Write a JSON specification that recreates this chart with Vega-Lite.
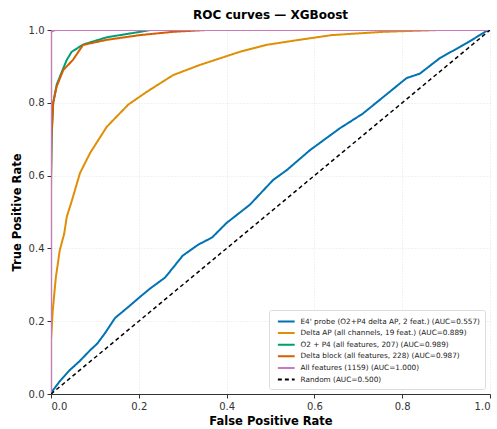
{
  "$schema": "https://vega.github.io/schema/vega-lite/v6.json",
  "autosize": {"type": "none"},
  "width": 439,
  "height": 364,
  "padding": {"left": 51, "top": 30, "right": 7, "bottom": 35},
  "title": {"text": "ROC curves — XGBoost", "font": "DejaVu Sans", "fontSize": 12, "fontWeight": "bold", "color": "#000000", "offset": 3, "anchor": "middle"},
  "config": {
    "view": {"stroke": null},
    "font": "DejaVu Sans",
    "axis": {
      "labelFont": "DejaVu Sans", "labelFontSize": 10, "labelColor": "#333333",
      "titleFont": "DejaVu Sans", "titleFontSize": 11.5, "titleFontWeight": "bold", "titleColor": "#000000",
      "domainColor": "#333333", "domainWidth": 1.2, "tickColor": "#333333", "tickSize": 4,
      "gridColor": "#dddddd", "gridDash": [1, 2], "gridWidth": 0.8
    }
  },
  "data": {"values": [
    {"s": "E4' probe (O2+P4 delta AP, 2 feat.) (AUC=0.557)", "fpr": 0, "tpr": 0},
    {"s": "E4' probe (O2+P4 delta AP, 2 feat.) (AUC=0.557)", "fpr": 0.005, "tpr": 0.011},
    {"s": "E4' probe (O2+P4 delta AP, 2 feat.) (AUC=0.557)", "fpr": 0.02, "tpr": 0.035},
    {"s": "E4' probe (O2+P4 delta AP, 2 feat.) (AUC=0.557)", "fpr": 0.043, "tpr": 0.066},
    {"s": "E4' probe (O2+P4 delta AP, 2 feat.) (AUC=0.557)", "fpr": 0.065, "tpr": 0.09},
    {"s": "E4' probe (O2+P4 delta AP, 2 feat.) (AUC=0.557)", "fpr": 0.089, "tpr": 0.12},
    {"s": "E4' probe (O2+P4 delta AP, 2 feat.) (AUC=0.557)", "fpr": 0.105, "tpr": 0.138},
    {"s": "E4' probe (O2+P4 delta AP, 2 feat.) (AUC=0.557)", "fpr": 0.123, "tpr": 0.167},
    {"s": "E4' probe (O2+P4 delta AP, 2 feat.) (AUC=0.557)", "fpr": 0.146, "tpr": 0.209},
    {"s": "E4' probe (O2+P4 delta AP, 2 feat.) (AUC=0.557)", "fpr": 0.175, "tpr": 0.238},
    {"s": "E4' probe (O2+P4 delta AP, 2 feat.) (AUC=0.557)", "fpr": 0.203, "tpr": 0.267},
    {"s": "E4' probe (O2+P4 delta AP, 2 feat.) (AUC=0.557)", "fpr": 0.226, "tpr": 0.29},
    {"s": "E4' probe (O2+P4 delta AP, 2 feat.) (AUC=0.557)", "fpr": 0.26, "tpr": 0.32},
    {"s": "E4' probe (O2+P4 delta AP, 2 feat.) (AUC=0.557)", "fpr": 0.3, "tpr": 0.38},
    {"s": "E4' probe (O2+P4 delta AP, 2 feat.) (AUC=0.557)", "fpr": 0.335, "tpr": 0.41},
    {"s": "E4' probe (O2+P4 delta AP, 2 feat.) (AUC=0.557)", "fpr": 0.367, "tpr": 0.43},
    {"s": "E4' probe (O2+P4 delta AP, 2 feat.) (AUC=0.557)", "fpr": 0.4, "tpr": 0.47},
    {"s": "E4' probe (O2+P4 delta AP, 2 feat.) (AUC=0.557)", "fpr": 0.453, "tpr": 0.52},
    {"s": "E4' probe (O2+P4 delta AP, 2 feat.) (AUC=0.557)", "fpr": 0.506, "tpr": 0.588},
    {"s": "E4' probe (O2+P4 delta AP, 2 feat.) (AUC=0.557)", "fpr": 0.537, "tpr": 0.615},
    {"s": "E4' probe (O2+P4 delta AP, 2 feat.) (AUC=0.557)", "fpr": 0.59, "tpr": 0.67},
    {"s": "E4' probe (O2+P4 delta AP, 2 feat.) (AUC=0.557)", "fpr": 0.658, "tpr": 0.73},
    {"s": "E4' probe (O2+P4 delta AP, 2 feat.) (AUC=0.557)", "fpr": 0.71, "tpr": 0.77},
    {"s": "E4' probe (O2+P4 delta AP, 2 feat.) (AUC=0.557)", "fpr": 0.757, "tpr": 0.816},
    {"s": "E4' probe (O2+P4 delta AP, 2 feat.) (AUC=0.557)", "fpr": 0.81, "tpr": 0.868},
    {"s": "E4' probe (O2+P4 delta AP, 2 feat.) (AUC=0.557)", "fpr": 0.84, "tpr": 0.88},
    {"s": "E4' probe (O2+P4 delta AP, 2 feat.) (AUC=0.557)", "fpr": 0.886, "tpr": 0.923},
    {"s": "E4' probe (O2+P4 delta AP, 2 feat.) (AUC=0.557)", "fpr": 0.947, "tpr": 0.964},
    {"s": "E4' probe (O2+P4 delta AP, 2 feat.) (AUC=0.557)", "fpr": 0.993, "tpr": 0.998},
    {"s": "E4' probe (O2+P4 delta AP, 2 feat.) (AUC=0.557)", "fpr": 1, "tpr": 1},

    {"s": "Delta AP (all channels, 19 feat.) (AUC=0.889)", "fpr": 0, "tpr": 0},
    {"s": "Delta AP (all channels, 19 feat.) (AUC=0.889)", "fpr": 0, "tpr": 0.148},
    {"s": "Delta AP (all channels, 19 feat.) (AUC=0.889)", "fpr": 0.004, "tpr": 0.23},
    {"s": "Delta AP (all channels, 19 feat.) (AUC=0.889)", "fpr": 0.011, "tpr": 0.32},
    {"s": "Delta AP (all channels, 19 feat.) (AUC=0.889)", "fpr": 0.02, "tpr": 0.395},
    {"s": "Delta AP (all channels, 19 feat.) (AUC=0.889)", "fpr": 0.03, "tpr": 0.44},
    {"s": "Delta AP (all channels, 19 feat.) (AUC=0.889)", "fpr": 0.036, "tpr": 0.487},
    {"s": "Delta AP (all channels, 19 feat.) (AUC=0.889)", "fpr": 0.048, "tpr": 0.533},
    {"s": "Delta AP (all channels, 19 feat.) (AUC=0.889)", "fpr": 0.066, "tpr": 0.607},
    {"s": "Delta AP (all channels, 19 feat.) (AUC=0.889)", "fpr": 0.089, "tpr": 0.662},
    {"s": "Delta AP (all channels, 19 feat.) (AUC=0.889)", "fpr": 0.127, "tpr": 0.734},
    {"s": "Delta AP (all channels, 19 feat.) (AUC=0.889)", "fpr": 0.176, "tpr": 0.795},
    {"s": "Delta AP (all channels, 19 feat.) (AUC=0.889)", "fpr": 0.218, "tpr": 0.83},
    {"s": "Delta AP (all channels, 19 feat.) (AUC=0.889)", "fpr": 0.278, "tpr": 0.876},
    {"s": "Delta AP (all channels, 19 feat.) (AUC=0.889)", "fpr": 0.339, "tpr": 0.904},
    {"s": "Delta AP (all channels, 19 feat.) (AUC=0.889)", "fpr": 0.43, "tpr": 0.94},
    {"s": "Delta AP (all channels, 19 feat.) (AUC=0.889)", "fpr": 0.49, "tpr": 0.959},
    {"s": "Delta AP (all channels, 19 feat.) (AUC=0.889)", "fpr": 0.56, "tpr": 0.972},
    {"s": "Delta AP (all channels, 19 feat.) (AUC=0.889)", "fpr": 0.64, "tpr": 0.986},
    {"s": "Delta AP (all channels, 19 feat.) (AUC=0.889)", "fpr": 0.757, "tpr": 0.995},
    {"s": "Delta AP (all channels, 19 feat.) (AUC=0.889)", "fpr": 0.886, "tpr": 1},
    {"s": "Delta AP (all channels, 19 feat.) (AUC=0.889)", "fpr": 1, "tpr": 1},

    {"s": "O2 + P4 (all features, 207) (AUC=0.989)", "fpr": 0, "tpr": 0},
    {"s": "O2 + P4 (all features, 207) (AUC=0.989)", "fpr": 0, "tpr": 0.6},
    {"s": "O2 + P4 (all features, 207) (AUC=0.989)", "fpr": 0.002, "tpr": 0.72},
    {"s": "O2 + P4 (all features, 207) (AUC=0.989)", "fpr": 0.005, "tpr": 0.8},
    {"s": "O2 + P4 (all features, 207) (AUC=0.989)", "fpr": 0.013, "tpr": 0.85},
    {"s": "O2 + P4 (all features, 207) (AUC=0.989)", "fpr": 0.028, "tpr": 0.895},
    {"s": "O2 + P4 (all features, 207) (AUC=0.989)", "fpr": 0.036, "tpr": 0.918},
    {"s": "O2 + P4 (all features, 207) (AUC=0.989)", "fpr": 0.047, "tpr": 0.94},
    {"s": "O2 + P4 (all features, 207) (AUC=0.989)", "fpr": 0.073, "tpr": 0.96},
    {"s": "O2 + P4 (all features, 207) (AUC=0.989)", "fpr": 0.127, "tpr": 0.98},
    {"s": "O2 + P4 (all features, 207) (AUC=0.989)", "fpr": 0.203, "tpr": 0.995},
    {"s": "O2 + P4 (all features, 207) (AUC=0.989)", "fpr": 0.226, "tpr": 1},
    {"s": "O2 + P4 (all features, 207) (AUC=0.989)", "fpr": 1, "tpr": 1},

    {"s": "Delta block (all features, 228) (AUC=0.987)", "fpr": 0, "tpr": 0},
    {"s": "Delta block (all features, 228) (AUC=0.987)", "fpr": 0, "tpr": 0.55},
    {"s": "Delta block (all features, 228) (AUC=0.987)", "fpr": 0.001, "tpr": 0.707},
    {"s": "Delta block (all features, 228) (AUC=0.987)", "fpr": 0.005, "tpr": 0.8},
    {"s": "Delta block (all features, 228) (AUC=0.987)", "fpr": 0.013, "tpr": 0.845},
    {"s": "Delta block (all features, 228) (AUC=0.987)", "fpr": 0.028, "tpr": 0.89},
    {"s": "Delta block (all features, 228) (AUC=0.987)", "fpr": 0.05, "tpr": 0.918},
    {"s": "Delta block (all features, 228) (AUC=0.987)", "fpr": 0.073, "tpr": 0.959},
    {"s": "Delta block (all features, 228) (AUC=0.987)", "fpr": 0.127, "tpr": 0.973},
    {"s": "Delta block (all features, 228) (AUC=0.987)", "fpr": 0.203, "tpr": 0.986},
    {"s": "Delta block (all features, 228) (AUC=0.987)", "fpr": 0.278, "tpr": 0.995},
    {"s": "Delta block (all features, 228) (AUC=0.987)", "fpr": 0.355, "tpr": 1},
    {"s": "Delta block (all features, 228) (AUC=0.987)", "fpr": 1, "tpr": 1},

    {"s": "All features (1159) (AUC=1.000)", "fpr": 0, "tpr": 0},
    {"s": "All features (1159) (AUC=1.000)", "fpr": 0, "tpr": 0.995},
    {"s": "All features (1159) (AUC=1.000)", "fpr": 0.01, "tpr": 1},
    {"s": "All features (1159) (AUC=1.000)", "fpr": 1, "tpr": 1},

    {"s": "Random (AUC=0.500)", "fpr": 0, "tpr": 0},
    {"s": "Random (AUC=0.500)", "fpr": 1, "tpr": 1}
  ]},
  "mark": {"type": "line", "strokeWidth": 2, "clip": true},
  "encoding": {
    "x": {"field": "fpr", "type": "quantitative", "scale": {"domain": [0, 1], "nice": false},
      "axis": {"title": "False Positive Rate", "values": [0, 0.2, 0.4, 0.6, 0.8, 1], "format": ".1f", "titlePadding": 4, "labelPadding": 3}},
    "y": {"field": "tpr", "type": "quantitative", "scale": {"domain": [0, 1], "nice": false},
      "axis": {"title": "True Positive Rate", "values": [0, 0.2, 0.4, 0.6, 0.8, 1], "format": ".1f", "titlePadding": 6, "labelPadding": 3}},
    "color": {"field": "s", "type": "nominal", "sort": null,
      "scale": {"domain": ["E4' probe (O2+P4 delta AP, 2 feat.) (AUC=0.557)", "Delta AP (all channels, 19 feat.) (AUC=0.889)", "O2 + P4 (all features, 207) (AUC=0.989)", "Delta block (all features, 228) (AUC=0.987)", "All features (1159) (AUC=1.000)", "Random (AUC=0.500)"],
        "range": ["#0173B2", "#DE8F05", "#029E73", "#D55E00", "#CC78BC", "#000000"]},
      "legend": {"title": null, "orient": "bottom-right", "offset": 5, "fillColor": "#ffffff", "strokeColor": "#dddddd", "padding": 5, "cornerRadius": 2,
        "labelFont": "DejaVu Sans", "labelFontSize": 7.3, "labelColor": "#222222", "symbolType": "M-0.5,0H2.7", "symbolSize": 110, "symbolStrokeWidth": 2, "rowPadding": 0.6, "labelOffset": 13.5, "labelLimit": 300}},
    "strokeDash": {"field": "s", "type": "nominal", "sort": null,
      "scale": {"domain": ["E4' probe (O2+P4 delta AP, 2 feat.) (AUC=0.557)", "Delta AP (all channels, 19 feat.) (AUC=0.889)", "O2 + P4 (all features, 207) (AUC=0.989)", "Delta block (all features, 228) (AUC=0.987)", "All features (1159) (AUC=1.000)", "Random (AUC=0.500)"],
        "range": [[1, 0], [1, 0], [1, 0], [1, 0], [1, 0], [4, 3]]},
      "legend": {"title": null}},
    "size": {"condition": {"test": "datum.s == 'Random (AUC=0.500)'", "value": 1.5}, "value": 2}
  }
}
